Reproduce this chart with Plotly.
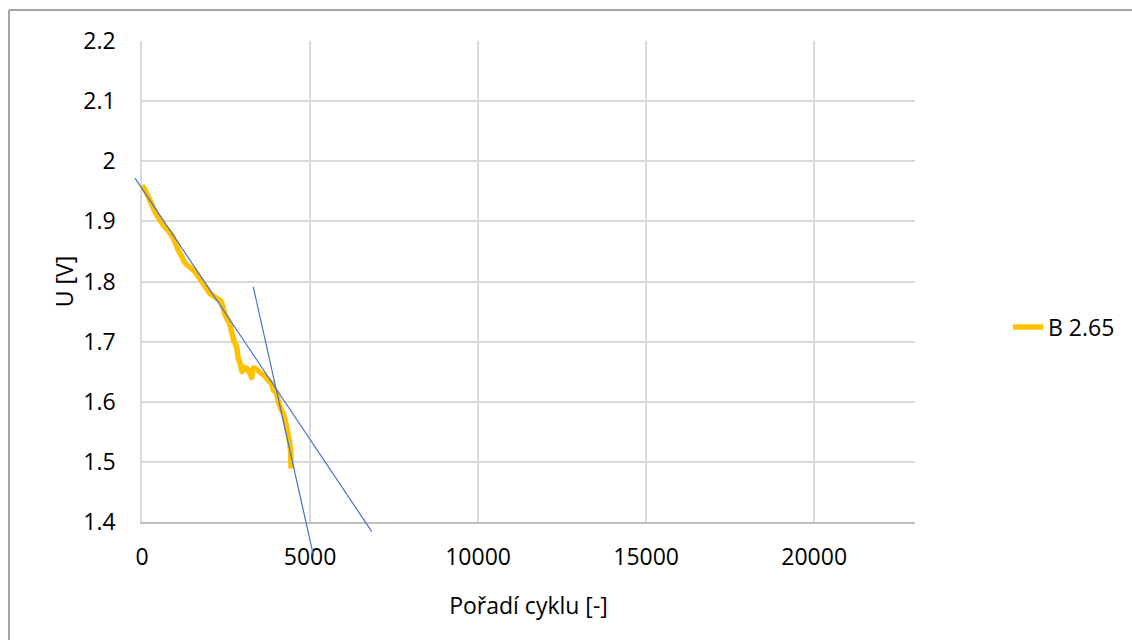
import plotly.graph_objects as go

# ---- data ----
cycles = [0, 90, 188, 290, 387, 500, 634, 760, 884, 980, 1080, 1180, 1279, 1420, 1577,
          1680, 1776, 1900, 2023, 2120, 2222, 2320, 2371, 2420, 2469, 2540, 2618, 2717,
          2816, 2866, 2920, 2980, 3015, 3064, 3120, 3163, 3230, 3263, 3290, 3312, 3411,
          3490, 3561, 3640, 3709, 3790, 3858, 3890, 3907, 3950, 4007, 4060, 4106, 4150,
          4204, 4250, 4304, 4340, 4382, 4410, 4424, 4430, 4433]
voltage = [1.960, 1.952, 1.941, 1.928, 1.916, 1.905, 1.894, 1.886, 1.877, 1.866, 1.852,
           1.842, 1.831, 1.824, 1.816, 1.808, 1.800, 1.790, 1.780, 1.776, 1.772, 1.769,
           1.764, 1.755, 1.745, 1.737, 1.728, 1.705, 1.690, 1.672, 1.664, 1.650, 1.658,
           1.653, 1.656, 1.652, 1.645, 1.640, 1.652, 1.656, 1.654, 1.650, 1.647, 1.643,
           1.639, 1.634, 1.630, 1.622, 1.619, 1.618, 1.613, 1.600, 1.592, 1.586, 1.581,
           1.571, 1.559, 1.548, 1.536, 1.524, 1.514, 1.500, 1.489]
series_name = "B 2.65"

trend1_x = [-208, 6837]
trend1_y = [1.972, 1.384]
trend2_x = [3311, 5102]
trend2_y = [1.791, 1.344]

x_ticks = [0, 5000, 10000, 15000, 20000]
x_tick_text = ["0", "5000", "10000", "15000", "20000"]
y_ticks = [1.4, 1.5, 1.6, 1.7, 1.8, 1.9, 2.0, 2.1, 2.2]
y_tick_text = ["1.4", "1.5", "1.6", "1.7", "1.8", "1.9", "2", "2.1", "2.2"]
x_range = [0, 23000]
y_range = [1.4, 2.2]

# ---- layout geometry (pixels) ----
W, H = 1132, 640
PLOT_L, PLOT_R, PLOT_T, PLOT_B = 142, 915, 41, 522
EXTRA_L, EXTRA_B = 12, 40          # room for trendlines overflowing the plot area
ml, mr, mt, mb = PLOT_L - EXTRA_L, W - PLOT_R, PLOT_T, H - PLOT_B - EXTRA_B
pw, ph = W - ml - mr, H - mt - mb

x_per_px = (x_range[1] - x_range[0]) / (PLOT_R - PLOT_L)
y_per_px = (y_range[1] - y_range[0]) / (PLOT_B - PLOT_T)
x2_range = [x_range[0] - EXTRA_L * x_per_px, x_range[1]]
y2_range = [y_range[0] - EXTRA_B * y_per_px, y_range[1]]

def px_x(p):
    return (p - ml) / pw

def px_y(p):
    return (H - mb - p) / ph

FONT = "Open Sans"
FS = 23

fig = go.Figure()
fig.add_trace(go.Scatter(x=cycles, y=voltage, mode="lines", name=series_name,
                         line=dict(color="#FFC000", width=5.5, shape="spline",
                                   smoothing=0.4),
                         xaxis="x", yaxis="y"))
for tx, ty in ((trend1_x, trend1_y), (trend2_x, trend2_y)):
    fig.add_trace(go.Scatter(x=tx, y=ty, mode="lines", showlegend=False,
                             line=dict(color="#4472C4", width=1.2),
                             xaxis="x2", yaxis="y2", hoverinfo="skip"))

grid = "#d9d9d9"
fig.update_layout(
    width=W, height=H,
    margin=dict(l=ml, r=mr, t=mt, b=mb, autoexpand=False),
    paper_bgcolor="white", plot_bgcolor="rgba(0,0,0,0)",
    font=dict(family=FONT, size=FS, color="#000000"),
    xaxis=dict(domain=[EXTRA_L / pw, 1], range=x_range, tickvals=x_ticks,
               ticktext=x_tick_text,
               showgrid=True, gridcolor=grid, gridwidth=1.5,
               showline=True, linecolor="#bfbfbf", linewidth=1.5,
               zeroline=False, ticks="", ticklabelstandoff=14,
               title=dict(text="Pořadí cyklu [-]", standoff=27,
                          font=dict(family=FONT, size=FS)),
               automargin=False, anchor="y"),
    yaxis=dict(domain=[EXTRA_B / ph, 1], range=y_range, tickvals=y_ticks,
               ticktext=y_tick_text,
               showgrid=True, gridcolor=grid, gridwidth=1.5,
               showline=True, linecolor=grid, linewidth=1.5,
               zeroline=False, ticks="", ticklabelstandoff=20,
               title=dict(text="U [V]", standoff=3,
                          font=dict(family=FONT, size=FS)),
               automargin=False, anchor="x"),
    xaxis2=dict(domain=[0, 1], range=x2_range, visible=False, anchor="y2"),
    yaxis2=dict(domain=[0, 1], range=y2_range, visible=False, anchor="x2"),
    legend=dict(x=px_x(1008), y=px_y(327), xanchor="left", yanchor="middle",
                font=dict(family=FONT, size=FS), bgcolor="rgba(0,0,0,0)",
                itemwidth=30),
    showlegend=True,
    shapes=[
        dict(type="line", xref="paper", yref="paper",
             x0=px_x(9), x1=px_x(W + 5), y0=px_y(10), y1=px_y(10),
             line=dict(color="#a6a6a6", width=2)),
        dict(type="line", xref="paper", yref="paper",
             x0=px_x(9), x1=px_x(9), y0=px_y(10), y1=px_y(H + 5),
             line=dict(color="#a6a6a6", width=2)),
    ],
)

fig.write_html("out.html", config={"displayModeBar": False},
               post_script="document.body.style.margin='0';")
